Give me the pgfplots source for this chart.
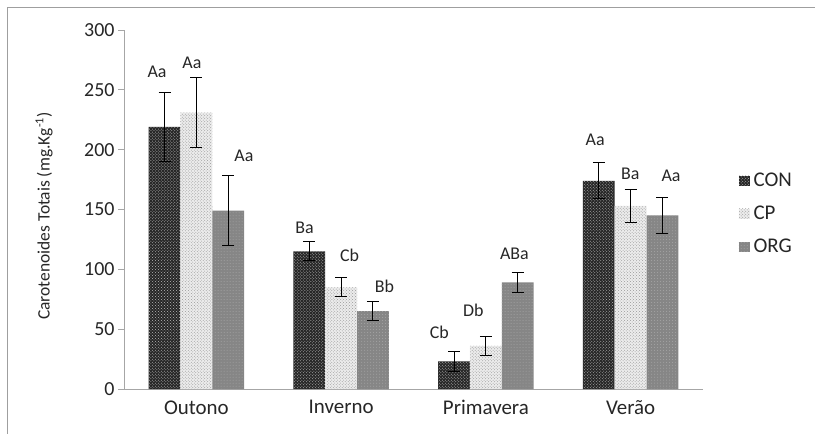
\documentclass[border=0pt]{standalone}
\usepackage{fontspec}
\setmainfont{Carlito}
\usepackage{pgfplots}
\usepackage{pgfplotstable}
\pgfplotsset{compat=1.18}
\usetikzlibrary{patterns}

\pgfplotstableread{
x y e
-0.22 219 29
0.78 115 8
1.78 23 8
2.78 174 15
}\con
\pgfplotstableread{
x y e
0 231 29
1 85 8
2 36 8
3 153 14
}\cp
\pgfplotstableread{
x y e
0.22 149 29
1.22 65 8
2.22 89 8
3.22 145 15
}\org
\pgfplotstableread{
x y lab
-0.272 265 Aa
-0.031 272.5 Aa
0.328 194.6 Aa
0.748 135 Ba
1.059 112 Cb
1.300 86 Bb
1.679 47.5 Cb
1.914 66 Db
2.197 113 ABa
2.755 208.6 Aa
2.997 179.6 Ba
3.279 178 Aa
}\labs

\pgfplotsset{
  mylegend/.style={legend image code/.code={\path[##1, draw=none] (0bp,-5bp) rectangle (11bp,5bp);}},
  errstyle/.style={error bars/.cd, y dir=both, y explicit,
    error bar style={black, line width=1bp},
    error mark options={rotate=90, mark size=6bp, black, line width=1bp}},
}

\begin{document}
\begin{tikzpicture}
\useasboundingbox (0bp,0bp) rectangle (815bp,434bp);
\draw[gray!75, line width=1.8bp] (7.5bp,0bp) -- (7.5bp,426.5bp) -- (815bp,426.5bp);
\begin{axis}[
  at={(124bp,45bp)}, anchor=south west,
  scale only axis, width=579bp, height=359bp,
  xmin=-0.5, xmax=3.5, ymin=0, ymax=300,
  axis x line*=bottom, axis y line*=left,
  axis line style={gray!70, line width=0.9bp},
  tick style={gray!70, line width=0.9bp},
  tick align=outside,
  major tick length=6bp,
  ytick={0,50,...,300},
  xtick={0,1,2,3},
  xticklabels={Outono,Inverno,Primavera,Verão},
  x tick style={draw=none},
  extra x ticks={-0.5,0.5,1.5,2.5,3.5},
  extra x tick labels={},
  extra x tick style={tick style={gray!70, line width=0.9bp, draw=gray!70}, major tick length=7bp},
  /pgf/number format/assume math mode=true,
  yticklabel style={font=\fontsize{20}{20}\selectfont, text=black!85},
  xticklabel style={font=\fontsize{21}{21}\selectfont, text=black!85, yshift=-2bp},
  every axis y label/.style={at={(axis description cs:-0.138,0.482)}, rotate=90, anchor=center,
    font=\fontsize{17.5}{17.5}\selectfont, text=black!85},
  ylabel={Carotenoides Totais (mg.Kg\textsuperscript{-1})},
  legend style={draw=none, fill=none, at={(1.061,0.607)}, anchor=north west,
    font=\fontsize{21}{21}\selectfont, row sep=14bp, inner sep=0pt,
    nodes={text=black!85, inner xsep=4bp}},
  legend cell align=left,
  clip=false,
]
\addplot[ybar, bar width=0.22, bar shift=0, draw=none, fill=black!85,
  postaction={pattern=crosshatch dots, pattern color=gray!55}, mylegend, errstyle]
  table[x=x, y=y, y error=e] {\con};
\addlegendentry{CON}
\addplot[ybar, bar width=0.22, bar shift=0, draw=none, fill=gray!15,
  postaction={pattern=crosshatch dots, pattern color=gray!80}, mylegend, errstyle]
  table[x=x, y=y, y error=e] {\cp};
\addlegendentry{CP}
\addplot[ybar, bar width=0.22, bar shift=0, draw=none, fill=gray!95,
  postaction={pattern=dots, pattern color=gray!70}, mylegend, errstyle]
  table[x=x, y=y, y error=e] {\org};
\addlegendentry{ORG}
\addplot[draw=none, mark=none, forget plot, nodes near coords, point meta=explicit symbolic,
  every node near coord/.append style={anchor=center, inner sep=0pt,
    font=\fontsize{18}{18}\selectfont, text=black!85}]
  table[x=x, y=y, meta=lab] {\labs};
\end{axis}
\end{tikzpicture}
\end{document}
